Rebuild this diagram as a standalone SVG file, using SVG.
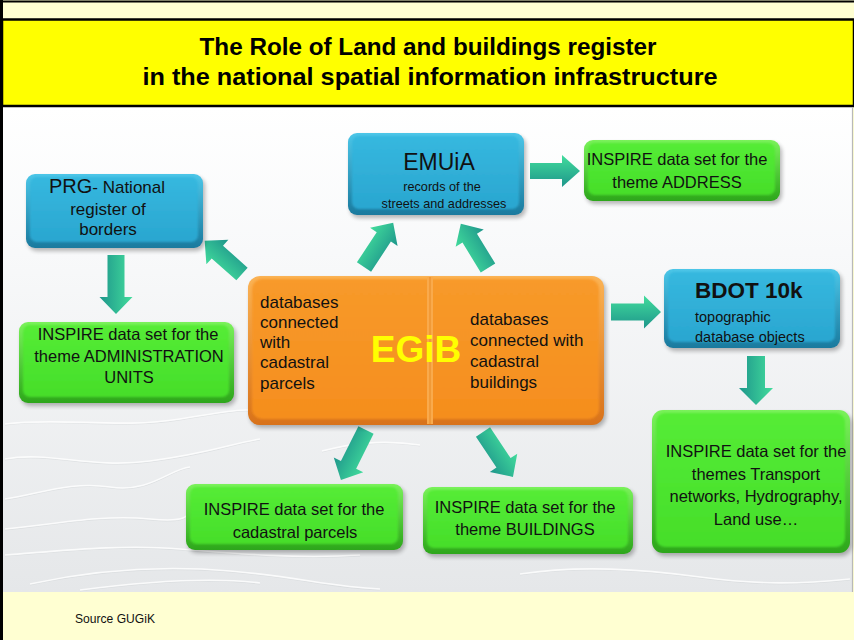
<svg xmlns="http://www.w3.org/2000/svg" width="854" height="640" viewBox="0 0 854 640">
  <style>
    .t { font-family: "Liberation Sans", Arial, sans-serif; fill: #111; }
    .title { font-family: "Liberation Sans", Arial, sans-serif; font-weight: bold; font-size: 24px; fill: #000; }
    .mid { text-anchor: middle; }
    .f165 { font-size: 16.5px; }
    .f17 { font-size: 17px; }
    .shadow { fill: #000; opacity: 0.28; filter: url(#soft); }
    .contour { fill: none; stroke: #ffffff; stroke-width: 1.6; opacity: 0.8; }
    .contour-s { fill: none; stroke: #cfd2d5; stroke-width: 0.8; opacity: 0.6; }
    .arrow { fill: url(#arrowGrad); }
  </style>
  <defs>
    <filter id="soft" x="-10%" y="-10%" width="120%" height="130%">
      <feGaussianBlur stdDeviation="2"/>
    </filter>
    <filter id="bevel" x="-5%" y="-5%" width="110%" height="110%">
      <feGaussianBlur stdDeviation="1.3"/>
    </filter>
    <linearGradient id="bg" x1="0" y1="0" x2="0" y2="1">
      <stop offset="0" stop-color="#ffffff"/>
      <stop offset="0.3" stop-color="#f8f9fa"/>
      <stop offset="1" stop-color="#e5e7e9"/>
    </linearGradient>
    <linearGradient id="blueEdge" x1="0" y1="0" x2="0" y2="1">
      <stop offset="0" stop-color="#4cc6e8"/>
      <stop offset="1" stop-color="#1a7a9e"/>
    </linearGradient>
    <linearGradient id="blueFace" x1="0" y1="0" x2="0" y2="1">
      <stop offset="0" stop-color="#36b8df"/>
      <stop offset="1" stop-color="#2aa6d0"/>
    </linearGradient>
    <linearGradient id="greenEdge" x1="0" y1="0" x2="0" y2="1">
      <stop offset="0" stop-color="#7af25a"/>
      <stop offset="1" stop-color="#2da61b"/>
    </linearGradient>
    <linearGradient id="greenFace" x1="0" y1="0" x2="0" y2="1">
      <stop offset="0" stop-color="#55ec36"/>
      <stop offset="1" stop-color="#46de2a"/>
    </linearGradient>
    <linearGradient id="orangeEdge" x1="0" y1="0" x2="0" y2="1">
      <stop offset="0" stop-color="#fbb355"/>
      <stop offset="1" stop-color="#d8721a"/>
    </linearGradient>
    <linearGradient id="orangeFace" x1="0" y1="0" x2="0" y2="1">
      <stop offset="0" stop-color="#f89a2a"/>
      <stop offset="1" stop-color="#f58e1e"/>
    </linearGradient>
    <linearGradient id="arrowGrad" x1="0" y1="0" x2="0" y2="1">
      <stop offset="0" stop-color="#42dc9c"/>
      <stop offset="1" stop-color="#1e968b"/>
    </linearGradient>
  </defs>

  <!-- page frame -->
  <rect x="0" y="0" width="854" height="640" fill="#ffffd2"/>
  <rect x="3" y="107" width="850" height="485" fill="url(#bg)"/>

  <!-- faint contour lines of the map background -->
  <g id="contours">
    <path class="contour-s" d="M5,425 C60,418 120,430 180,420 S245,410 260,412"/>
    <path class="contour" d="M5,424 C60,417 120,429 180,419 S245,409 260,411"/>
    <path class="contour-s" d="M5,460 C50,452 90,470 150,462 S230,445 260,440"/>
    <path class="contour" d="M5,459 C50,451 90,469 150,461 S230,444 260,439"/>
    <path class="contour-s" d="M5,500 C40,495 70,482 110,488 S170,470 190,468"/>
    <path class="contour" d="M5,499 C40,494 70,481 110,487 S170,469 190,467"/>
    <path class="contour-s" d="M5,530 C50,526 100,515 150,520 S185,510 190,508"/>
    <path class="contour" d="M5,529 C50,525 100,514 150,519 S185,509 190,507"/>
    <path class="contour-s" d="M5,556 C60,552 120,545 180,550 S300,560 360,556"/>
    <path class="contour" d="M5,555 C60,551 120,544 180,549 S300,559 360,555"/>
    <path class="contour-s" d="M30,585 C90,572 160,566 230,572 S330,588 380,590"/>
    <path class="contour" d="M30,584 C90,571 160,565 230,571 S330,587 380,589"/>
    <path class="contour-s" d="M80,591 C150,582 210,578 260,584"/>
    <path class="contour" d="M80,590 C150,581 210,577 260,583"/>
    <path class="contour-s" d="M322,452 C350,445 380,440 420,446"/>
    <path class="contour" d="M322,451 C350,444 380,439 420,445"/>
    <path class="contour-s" d="M520,575 C580,566 640,570 700,578 S800,585 850,580"/>
    <path class="contour" d="M520,574 C580,565 640,569 700,577 S800,584 850,579"/>
  </g>

  <!-- header -->
  <line x1="0" y1="1.5" x2="854" y2="1.5" stroke="#000" stroke-width="2"/>
  <rect x="2" y="19.5" width="852" height="86.5" fill="#ffff00" stroke="#000" stroke-width="2.5"/>
  <text class="title mid" x="428" y="55" textLength="457" lengthAdjust="spacingAndGlyphs">The Role of Land and buildings register</text>
  <text class="title mid" x="430" y="85" textLength="575" lengthAdjust="spacingAndGlyphs">in the national spatial information infrastructure</text>

  <!-- side borders -->
  <line x1="1.5" y1="0" x2="1.5" y2="640" stroke="#000" stroke-width="3"/>
  <line x1="852.5" y1="107" x2="852.5" y2="592" stroke="#b8b8b8" stroke-width="1.2"/>

  <!-- connectors: block arrows, drawn along +x then rotated into place -->
  <g id="connectors">
    <g transform="translate(116,255) rotate(90)"><path class="arrow" d="M0,-8.5 H42 V-16.5 L59,0 L42,16.5 V8.5 H0 Z"/></g>
    <g transform="translate(242,274) rotate(221.7)"><path class="arrow" d="M0,-8.5 H33 V-16.5 L50,0 L33,16.5 V8.5 H0 Z"/></g>
    <g transform="translate(364,267) rotate(-56.6)"><path class="arrow" d="M0,-8.5 H36 V-16.5 L53,0 L36,16.5 V8.5 H0 Z"/></g>
    <g transform="translate(488,268) rotate(238.5)"><path class="arrow" d="M0,-8.5 H35 V-16.5 L52,0 L35,16.5 V8.5 H0 Z"/></g>
    <g transform="translate(530,171)"><path class="arrow" d="M0,-8 H32 V-16 L50,0 L32,16 V8 H0 Z"/></g>
    <g transform="translate(611,312)"><path class="arrow" d="M0,-8.5 H33 V-16.5 L50,0 L33,16.5 V8.5 H0 Z"/></g>
    <g transform="translate(756,356) rotate(90)"><path class="arrow" d="M0,-9 H32 V-17 L49,0 L32,17 V9 H0 Z"/></g>
    <g transform="translate(366,430) rotate(116.6)"><path class="arrow" d="M0,-8.5 H39 V-16.5 L56,0 L39,16.5 V8.5 H0 Z"/></g>
    <g transform="translate(483,432) rotate(56.3)"><path class="arrow" d="M0,-8.5 H37 V-16.5 L54,0 L37,16.5 V8.5 H0 Z"/></g>
  </g>

  <!-- PRG -->
  <g id="prg">
    <rect class="shadow" x="28" y="177" width="177" height="74" rx="9"/>
    <rect x="26" y="174" width="177" height="74" rx="9" fill="url(#blueEdge)"/>
    <rect x="30" y="177" width="168" height="65" rx="7" fill="url(#blueFace)" filter="url(#bevel)"/>
    <text class="t mid" x="107" y="193"><tspan font-size="20">PRG</tspan><tspan font-size="17">- National</tspan></text>
    <text class="t mid f17" x="108" y="215">register of</text>
    <text class="t mid f17" x="108" y="235">borders</text>
  </g>

  <!-- INSPIRE administration units -->
  <g id="inspire-admin">
    <rect class="shadow" x="21" y="325" width="215" height="81" rx="9"/>
    <rect x="19" y="322" width="215" height="81" rx="9" fill="url(#greenEdge)"/>
    <rect x="23" y="325" width="206" height="72" rx="7" fill="url(#greenFace)" filter="url(#bevel)"/>
    <text class="t mid f165" x="128" y="340">INSPIRE data set for the</text>
    <text class="t mid f165" x="129" y="362">theme ADMINISTRATION</text>
    <text class="t mid f165" x="129" y="383">UNITS</text>
  </g>

  <!-- EMUiA -->
  <g id="emuia">
    <rect class="shadow" x="350" y="136" width="176" height="82" rx="9"/>
    <rect x="348" y="133" width="176" height="82" rx="9" fill="url(#blueEdge)"/>
    <rect x="352" y="136" width="167" height="73" rx="7" fill="url(#blueFace)" filter="url(#bevel)"/>
    <text class="t mid" x="439" y="170" font-size="23">EMUiA</text>
    <text class="t mid" x="442" y="191" font-size="12.7">records of the</text>
    <text class="t mid" x="444" y="208" font-size="12.7">streets and addresses</text>
  </g>

  <!-- INSPIRE address -->
  <g id="inspire-address">
    <rect class="shadow" x="586" y="143" width="196" height="61" rx="9"/>
    <rect x="584" y="140" width="196" height="61" rx="9" fill="url(#greenEdge)"/>
    <rect x="588" y="143" width="187" height="52" rx="7" fill="url(#greenFace)" filter="url(#bevel)"/>
    <text class="t mid f165" x="677" y="165">INSPIRE data set for the</text>
    <text class="t mid f165" x="677" y="188">theme ADDRESS</text>
  </g>

  <!-- EGiB -->
  <g id="egib">
    <rect class="shadow" x="250" y="279" width="356" height="149" rx="12"/>
    <rect x="248" y="276" width="356" height="149" rx="12" fill="url(#orangeEdge)"/>
    <rect x="252" y="279" width="347" height="140" rx="10" fill="url(#orangeFace)" filter="url(#bevel)"/>
    <rect x="427" y="277" width="6" height="147" fill="#f9aa4c"/>
    <line x1="430" y1="277" x2="430" y2="424" stroke="#ea8a22" stroke-width="1"/>
    <text class="t f17" x="260" y="308">databases</text>
    <text class="t f17" x="260" y="328">connected</text>
    <text class="t f17" x="260" y="348">with</text>
    <text class="t f17" x="260" y="368">cadastral</text>
    <text class="t f17" x="260" y="389">parcels</text>
    <text class="t mid" x="416" y="362" font-size="37" font-weight="bold" style="fill:#ffff00">EGiB</text>
    <text class="t f17" x="470" y="325">databases</text>
    <text class="t f17" x="470" y="346">connected with</text>
    <text class="t f17" x="470" y="367">cadastral</text>
    <text class="t f17" x="470" y="388">buildings</text>
  </g>

  <!-- BDOT 10k -->
  <g id="bdot">
    <rect class="shadow" x="666" y="272" width="176" height="79" rx="9"/>
    <rect x="664" y="269" width="176" height="79" rx="9" fill="url(#blueEdge)"/>
    <rect x="668" y="272" width="167" height="70" rx="7" fill="url(#blueFace)" filter="url(#bevel)"/>
    <text class="t" x="695" y="298" font-size="22.5" font-weight="bold">BDOT 10k</text>
    <text class="t" x="695" y="322" font-size="14.5">topographic</text>
    <text class="t" x="695" y="342" font-size="14.5">database objects</text>
  </g>

  <!-- INSPIRE transport, hydrography, land use -->
  <g id="inspire-transport">
    <rect class="shadow" x="654" y="413" width="198" height="143" rx="11"/>
    <rect x="652" y="410" width="198" height="143" rx="11" fill="url(#greenEdge)"/>
    <rect x="656" y="413" width="189" height="134" rx="9" fill="url(#greenFace)" filter="url(#bevel)"/>
    <text class="t mid f165" x="756" y="457">INSPIRE data set for the</text>
    <text class="t mid f165" x="756" y="480">themes Transport</text>
    <text class="t mid f165" x="756" y="502">networks, Hydrography,</text>
    <text class="t mid f165" x="756" y="525">Land use…</text>
  </g>

  <!-- INSPIRE cadastral parcels -->
  <g id="inspire-parcels">
    <rect class="shadow" x="188" y="487" width="217" height="66" rx="9"/>
    <rect x="186" y="484" width="217" height="66" rx="9" fill="url(#greenEdge)"/>
    <rect x="190" y="487" width="208" height="57" rx="7" fill="url(#greenFace)" filter="url(#bevel)"/>
    <text class="t mid f165" x="294" y="515">INSPIRE data set for the</text>
    <text class="t mid f165" x="295" y="538">cadastral parcels</text>
  </g>

  <!-- INSPIRE buildings -->
  <g id="inspire-buildings">
    <rect class="shadow" x="425" y="490" width="210" height="67" rx="9"/>
    <rect x="423" y="487" width="210" height="67" rx="9" fill="url(#greenEdge)"/>
    <rect x="427" y="490" width="201" height="58" rx="7" fill="url(#greenFace)" filter="url(#bevel)"/>
    <text class="t mid f165" x="525" y="513">INSPIRE data set for the</text>
    <text class="t mid f165" x="525" y="535">theme BUILDINGS</text>
  </g>

  <!-- footer -->
  <text class="t" x="75" y="623" font-size="12.1">Source GUGiK</text>
</svg>
